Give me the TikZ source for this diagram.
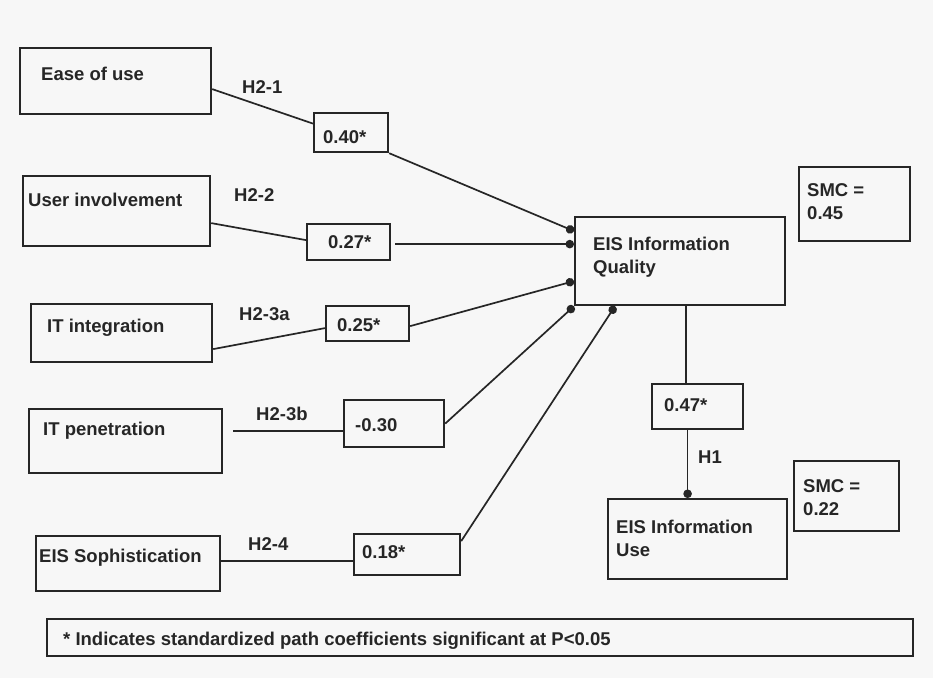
\documentclass[tikz,border=0pt]{standalone}
\usepackage{fontspec}
\setmainfont{Liberation Sans}
\usetikzlibrary{arrows.meta}
\begin{document}
\begin{tikzpicture}[x=1pt,y=-1pt,
  box/.style={draw=black!85, line width=2.2pt, inner sep=0pt, anchor=north west},
  txt/.style={font=\fontsize{18.5}{23}\selectfont\bfseries, inner sep=0pt, anchor=base west, align=left, text=black!85},
  conn/.style={draw=black!85, line width=1.7pt},
  dot/.style={conn, -{Circle[length=8.5pt,width=8.5pt]}}]
\path[fill=gray!6, use as bounding box] (0,0) rectangle (933,678);

% boxes
\node[box, minimum width=191pt, minimum height=66pt] (eou) at (19,47) {};
\node[box, minimum width=187pt, minimum height=70pt] (user) at (22,175) {};
\node[box, minimum width=181pt, minimum height=58pt] (itint) at (30,303) {};
\node[box, minimum width=193pt, minimum height=64pt] (itpen) at (28,408) {};
\node[box, minimum width=184pt, minimum height=55pt] (eis) at (35,535) {};
\node[box, minimum width=866pt, minimum height=37pt] (foot) at (46,618) {};
\node[box, minimum width=74pt, minimum height=39pt] (c40) at (313,112) {};
\node[box, minimum width=83pt, minimum height=36pt] (c27) at (306,223) {};
\node[box, minimum width=83pt, minimum height=35pt] (c25) at (325,305) {};
\node[box, minimum width=100pt, minimum height=47pt] (c30) at (343,399) {};
\node[box, minimum width=106pt, minimum height=41pt] (c18) at (353,533) {};
\node[box, minimum width=91pt, minimum height=45pt] (c47) at (651,383) {};
\node[box, minimum width=210pt, minimum height=88pt] (eiq) at (574,216) {};
\node[box, minimum width=111pt, minimum height=74pt] (smc1) at (798,166) {};
\node[box, minimum width=179pt, minimum height=80pt] (eiu) at (607,498) {};
\node[box, minimum width=105pt, minimum height=70pt] (smc2) at (793,460) {};

% texts
\node[txt] (eout) at (41,80.6) {Ease of use};
\node[txt] (usert) at (28,206.6) {User involvement};
\node[txt] (itintt) at (47,332.6) {IT integration};
\node[txt] (itpent) at (43,435.6) {IT penetration};
\node[txt] (eist) at (39,562.6) {EIS Sophistication};
\node[txt] (foott) at (63,645.6) {* Indicates standardized path coefficients significant at P<0.05};
\node[txt] (c40t) at (323,143.6) {0.40*};
\node[txt] (c27t) at (328,248.6) {0.27*};
\node[txt] (c25t) at (337,331.6) {0.25*};
\node[txt] (c30t) at (355,431.6) {-0.30};
\node[txt] (c18t) at (362,558.6) {0.18*};
\node[txt] (c47t) at (664,411.6) {0.47*};
\node[txt] (eiqt) at (593,273.6) {EIS Information\\Quality};
\node[txt] (smc1t) at (807,219.6) {SMC =\\0.45};
\node[txt] (eiut) at (616,556.6) {EIS Information\\Use};
\node[txt] (smc2t) at (803,515.6) {SMC =\\0.22};

% hypothesis labels
\node[txt] (h21) at (242,93.6) {H2-1};
\node[txt] (h22) at (234,201.6) {H2-2};
\node[txt] (h23a) at (239,320.6) {H2-3a};
\node[txt] (h23b) at (256,420.1) {H2-3b};
\node[txt] (h24) at (248,550.1) {H2-4};
\node[txt] (h1) at (698,463.6) {H1};

% connectors
\draw[conn] ([yshift=-8pt]eou.east) -- ([yshift=9pt]c40.west);
\draw[dot] (c40.south east) -- ([yshift=30pt]eiq.west);
\draw[conn] ([yshift=-12pt]user.east) -- ([yshift=2pt]c27.west);
\draw[dot] ([xshift=4pt,yshift=-2pt]c27.east) -- ([yshift=17pt]eiq.west);
\draw[conn] ([yshift=-16pt]itint.east) -- ([yshift=-4.5pt]c25.west);
\draw[dot] ([yshift=-2.5pt]c25.east) -- ([yshift=-20pt]eiq.west);
\draw[conn] ([xshift=10pt,yshift=10pt]itpen.east) -- ([yshift=-7.5pt]c30.west);
\draw[dot] (c30.east) -- (eiq.south west);
\draw[conn] ([yshift=2.5pt]eis.east) -- ([yshift=-6.5pt]c18.west);
\draw[dot] ([yshift=13.5pt]c18.east) -- ([xshift=41pt]eiq.south west);
\draw[conn] ([xshift=6pt]eiq.south) -- ([xshift=6pt]eiq.south |- c47.north);
\draw[dot] ([xshift=-10pt]c47.south) -- ([xshift=-10pt]c47.south |- eiu.north);
\end{tikzpicture}
\end{document}
